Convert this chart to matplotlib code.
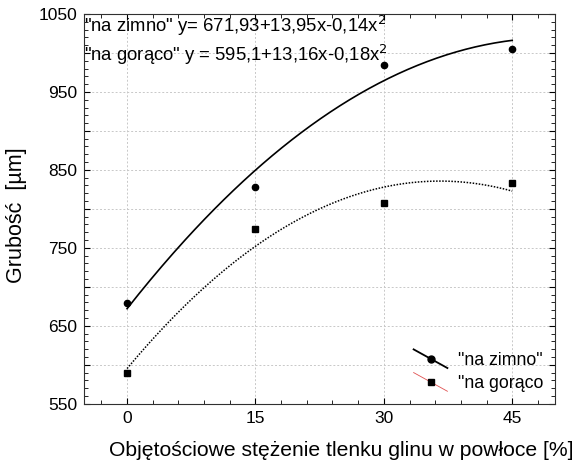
import numpy as np
import matplotlib
matplotlib.use("Agg")
from matplotlib import pyplot as plt
from matplotlib.ticker import MultipleLocator
from matplotlib.lines import Line2D
from matplotlib.legend_handler import HandlerLine2D

plt.rcParams['font.family'] = ['Liberation Sans', 'DejaVu Sans']

# dane
stezenie = [0, 15, 30, 45]
zimno = [679, 828, 984, 1005]
goraco = [589, 774, 808, 833]
# wspolczynniki dopasowania: a0, a1, a2
wsp_zimno = [671.93, 13.95, -0.14]
wsp_goraco = [595.1, 13.16, -0.18]


# ukosna linia w legendzie (jak w Statistice)
class UkosnaLinia(HandlerLine2D):
    def create_artists(self, legend, orig_handle, xdescent, ydescent,
                       width, height, fontsize, trans):
        xd = np.array([-xdescent, width - xdescent])
        yd = np.array([height * 1.25, -height * 0.25]) - ydescent
        linia = Line2D(xd, yd)
        self.update_prop(linia, orig_handle, legend)
        linia.set_marker("")
        znak = Line2D([xd.mean()], [yd.mean()])
        self.update_prop(znak, orig_handle, legend)
        znak.set_linestyle("")
        linia.set_transform(trans)
        znak.set_transform(trans)
        return [linia, znak]


fig = plt.figure(figsize=(5.78, 4.65), dpi=100)
ax = fig.add_axes([84.3 / 578, 1 - 403.7 / 465, (555 - 84.3) / 578, (403.7 - 14) / 465])

x = np.linspace(0, 45, 200)
y_z = wsp_zimno[0] + wsp_zimno[1] * x + wsp_zimno[2] * x ** 2
y_g = wsp_goraco[0] + wsp_goraco[1] * x + wsp_goraco[2] * x ** 2

ax.plot(x, y_z, color="black", lw=1.2)
ax.plot(x, y_g, color="black", lw=1.1, ls=(0, (1, 1)))
ax.plot(stezenie, zimno, "o", color="black", ms=4.5)
ax.plot(stezenie, goraco, "s", color="black", ms=4.5)

# legenda
h1, = ax.plot([], [], color="black", marker="o", ms=5, lw=1.3)
h2, = ax.plot([], [], color="#e05050", marker="s", mfc="black", mec="black", ms=5, lw=0.6)
ax.legend([h1, h2], ['"na zimno"', '"na gorąco'], loc="lower right", frameon=False,
          fontsize=12.8, handlelength=1.9, handletextpad=0.6, labelspacing=0.35,
          borderaxespad=0.25, handler_map={Line2D: UkosnaLinia()})

ax.text(0.0, 0.954, '"na zimno" y= 671,93+13,95x-0,14x$^2$', transform=ax.transAxes,
        ha="left", va="baseline", fontsize=13.3)
ax.text(0.0, 0.879, '"na gorąco" y = 595,1+13,16x-0,18x$^2$', transform=ax.transAxes,
        ha="left", va="baseline", fontsize=13.3)

ax.set_xlim(-5, 50)
ax.set_ylim(550, 1050)
ax.set_xticks(stezenie)
ax.xaxis.set_minor_locator(MultipleLocator(3))
ax.yaxis.set_major_locator(MultipleLocator(50))
ax.yaxis.set_minor_locator(MultipleLocator(10))
ax.set_yticklabels([str(int(v)) if (v - 550) % 100 == 0 else "" for v in ax.get_yticks()])
ax.tick_params(which="both", direction="in", top=True, right=True, labelsize=12.5, pad=5)
ax.tick_params(which="major", length=4)
ax.tick_params(which="minor", length=3)
ax.grid(True, color="#c8c8c8", ls=(0, (2, 2)), lw=0.7)
for s in ax.spines.values():
    s.set_linewidth(0.8)
    s.set_color("#303030")

ax.set_xlabel("Objętościowe stężenie tlenku glinu w powłoce [%]", fontsize=15.2)
ax.xaxis.set_label_coords(0.545, -0.095)
ax.set_ylabel("Grubość  [µm]", fontsize=15.5)
ax.yaxis.set_label_coords(-0.122, 0.484)

fig.savefig("out.png", dpi=100)
